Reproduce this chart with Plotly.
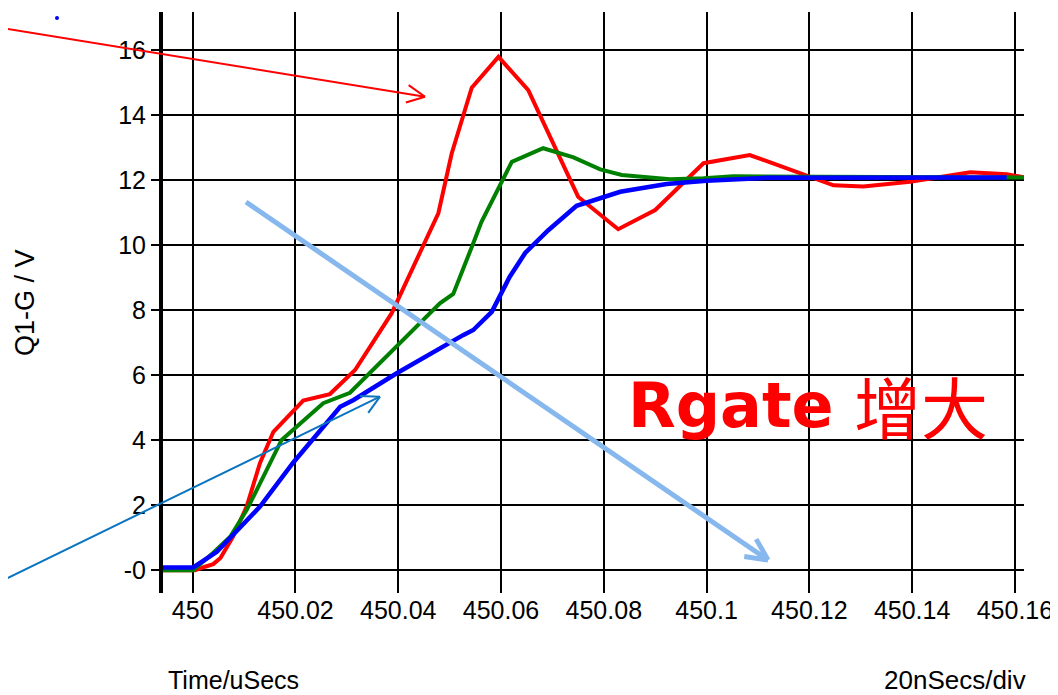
import math
import plotly.graph_objects as go

# ---------------- data ----------------
red_t = [449.99422, 450.00045, 450.0024, 450.0040, 450.0054, 450.0078, 450.0105, 450.0131,
         450.0157, 450.0215, 450.0267, 450.0316, 450.0387, 450.0449, 450.0478, 450.0504,
         450.0543, 450.0595, 450.0653, 450.0750, 450.0828, 450.0900, 450.0994, 450.1084,
         450.1195, 450.1247, 450.1305, 450.1396, 450.1513, 450.1584, 450.1620]
red_v = [0.0, 0.0, 0.11, 0.19, 0.38, 1.02, 1.96, 3.30,
         4.26, 5.22, 5.42, 6.16, 7.90, 9.95, 10.98, 12.82,
         14.84, 15.79, 14.77, 11.49, 10.49, 11.08, 12.52, 12.77,
         12.15, 11.84, 11.80, 11.95, 12.24, 12.18, 12.08]

green_t = [449.99422, 450.0001, 450.0040, 450.0073, 450.0105, 450.0137, 450.0173, 450.0254,
           450.0306, 450.0481, 450.0507, 450.0546, 450.0562, 450.0621, 450.0682, 450.0741,
           450.0793, 450.0835, 450.0929, 450.0994, 450.1052, 450.1221, 450.1620]
green_v = [0.0, 0.0, 0.54, 1.03, 1.85, 2.88, 4.01, 5.14,
           5.46, 8.21, 8.50, 10.06, 10.72, 12.56, 12.98, 12.70,
           12.33, 12.16, 12.03, 12.06, 12.12, 12.10, 12.08]

blue_t = [449.99422, 450.0001, 450.0047, 450.0131, 450.0195, 450.0287, 450.0313, 450.0397,
          450.0527, 450.0546, 450.0582, 450.0617, 450.0647, 450.0692, 450.0747, 450.0832,
          450.0922, 450.1000, 450.1117, 450.1584]
blue_v = [0.09, 0.09, 0.57, 1.96, 3.30, 5.03, 5.24, 6.06,
          7.24, 7.39, 7.95, 9.03, 9.76, 10.46, 11.21, 11.64,
          11.88, 11.98, 12.07, 12.08]

x_tickvals = [450, 450.02, 450.04, 450.06, 450.08, 450.1, 450.12, 450.14, 450.16]
x_ticktext = ["450", "450.02", "450.04", "450.06", "450.08", "450.1", "450.12", "450.14", "450.16"]
y_tickvals = [0, 2, 4, 6, 8, 10, 12, 14, 16]
y_ticktext = ["-0", "2", "4", "6", "8", "10", "12", "14", "16"]

# ---------------- layout geometry ----------------
# the page body has an 8px margin, so the figure is 8px smaller and all
# window-pixel positions are shifted by OFF
OFF = 8
W, H = 1058 - OFF, 695 - OFF
L, R, T, B = 163 - OFF, 34, 12 - OFF, 102
PW, PH = W - L - R, H - T - B


def px(xp, yp):
    """window pixel position -> paper coordinates (for decorations only)"""
    xp -= OFF
    yp -= OFF
    return (xp - L) / PW, (H - B - yp) / PH


fig = go.Figure()
fig.add_trace(go.Scatter(x=red_t, y=red_v, mode="lines",
                         line=dict(color="#ff0000", width=4), showlegend=False))
fig.add_trace(go.Scatter(x=green_t, y=green_v, mode="lines",
                         line=dict(color="#008000", width=4), showlegend=False))
fig.add_trace(go.Scatter(x=blue_t, y=blue_v, mode="lines",
                         line=dict(color="#0000ff", width=4.5), showlegend=False))

font_main = "Liberation Sans, Arial, sans-serif"

fig.update_layout(
    width=W, height=H,
    margin=dict(l=L, r=R, t=T, b=B, pad=0),
    paper_bgcolor="white", plot_bgcolor="white",
    font=dict(family=font_main, size=25, color="black"),
    xaxis=dict(range=[449.99422, 450.16177], tickvals=x_tickvals, ticktext=x_ticktext,
               showgrid=True, gridcolor="black", gridwidth=2, zeroline=False,
               showline=False, ticks="", tickfont=dict(size=25)),
    yaxis=dict(range=[-0.698, 17.17], tickvals=y_tickvals, ticktext=y_ticktext,
               showgrid=True, gridcolor="black", gridwidth=2, zeroline=False,
               showline=True, linecolor="black", linewidth=4,
               ticks="outside", ticklen=8, tickwidth=2, tickcolor="black",
               tickfont=dict(size=25)),
)

shapes = []


def seg(x0, y0, x1, y1, color, width):
    a0, b0 = px(x0, y0)
    a1, b1 = px(x1, y1)
    shapes.append(dict(type="line", xref="paper", yref="paper", x0=a0, y0=b0, x1=a1, y1=b1,
                       line=dict(color=color, width=width)))


def arrow(x0, y0, x1, y1, color, width, head=20, ang=28):
    seg(x0, y0, x1, y1, color, width)
    th = math.atan2(y0 - y1, x0 - x1)
    for s in (-1, 1):
        a = th + s * math.radians(ang)
        seg(x1, y1, x1 + head * math.cos(a), y1 + head * math.sin(a), color, width)


arrow(0, 27.7, 425, 96.7, "#ff0000", 2, head=20, ang=26)
arrow(0, 581.7, 380, 396.7, "#0a74c0", 2, head=20, ang=28)
arrow(246, 202, 768, 560, "#86b8ee", 5, head=24, ang=26)

cx, cy = px(57, 18)
rx, ry = 2 / PW, 2 / PH
shapes.append(dict(type="circle", xref="paper", yref="paper", x0=cx - rx, x1=cx + rx,
                   y0=cy - ry, y1=cy + ry, fillcolor="#0000ff", line=dict(width=0)))
fig.update_layout(shapes=shapes)

annotations = []


def text(t, xp, yp, size, xanchor="left", yanchor="middle", family=font_main,
         color="black", angle=0):
    a, b = px(xp, yp)
    annotations.append(dict(text=t, x=a, y=b, xref="paper", yref="paper", showarrow=False,
                            xanchor=xanchor, yanchor=yanchor, textangle=angle,
                            font=dict(size=size, family=family, color=color)))


text("Time/uSecs", 166, 680, 25)
text("20nSecs/div", 882, 680, 26)
text("Q1-G / V", 25, 303, 27, xanchor="center", angle=-90)
text("<b>Rgate</b>", 626, 405, 62, family="DejaVu Sans, Verdana, sans-serif", color="#ff0000")
text("增大", 852, 404, 67, family="Noto Sans CJK SC, sans-serif", color="#ff0000")
fig.update_layout(annotations=annotations)

fig.write_html("out.html")
